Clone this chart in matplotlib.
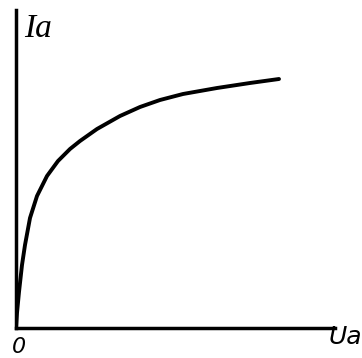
import matplotlib
matplotlib.use("Agg")
import matplotlib.pyplot as plt

# anode characteristic: current Ia against voltage Ua (arbitrary units)
ua = [0, 1, 3, 6, 9, 14, 21, 31, 42, 54, 64, 81, 104, 124, 144, 167, 201, 234, 263]
ia = [0, 15, 36, 63, 83, 110, 132, 152, 167, 179, 187, 199, 212, 221, 228, 234, 240, 245, 249]

W, H = 362, 358
fig = plt.figure(figsize=(W / 100, H / 100), dpi=100)
ax = fig.add_axes([16 / W, 30 / H, 319 / W, 318 / H])
ax.set_xlim(0, 319)
ax.set_ylim(0, 318)

ax.plot(ua, ia, color="black", lw=2.8, solid_capstyle="round",
        solid_joinstyle="round")

for side in ["top", "right"]:
    ax.spines[side].set_visible(False)
for side in ["left", "bottom"]:
    ax.spines[side].set_linewidth(2.5)
ax.set_xticks([])
ax.set_yticks([])

# axis names and origin
fig.text(24 / W, 1 - 37 / H, "Ia", fontsize=24, family="Liberation Serif",
         style="italic", ha="left", va="baseline")
fig.text(329 / W, 1 - 344 / H, "Ua", fontsize=18, family="DejaVu Sans",
         style="italic", ha="left", va="baseline")
fig.text(12 / W, 1 - 353 / H, "0", fontsize=16, family="DejaVu Sans",
         style="italic", ha="left", va="baseline")

fig.savefig("out.png", dpi=100)
